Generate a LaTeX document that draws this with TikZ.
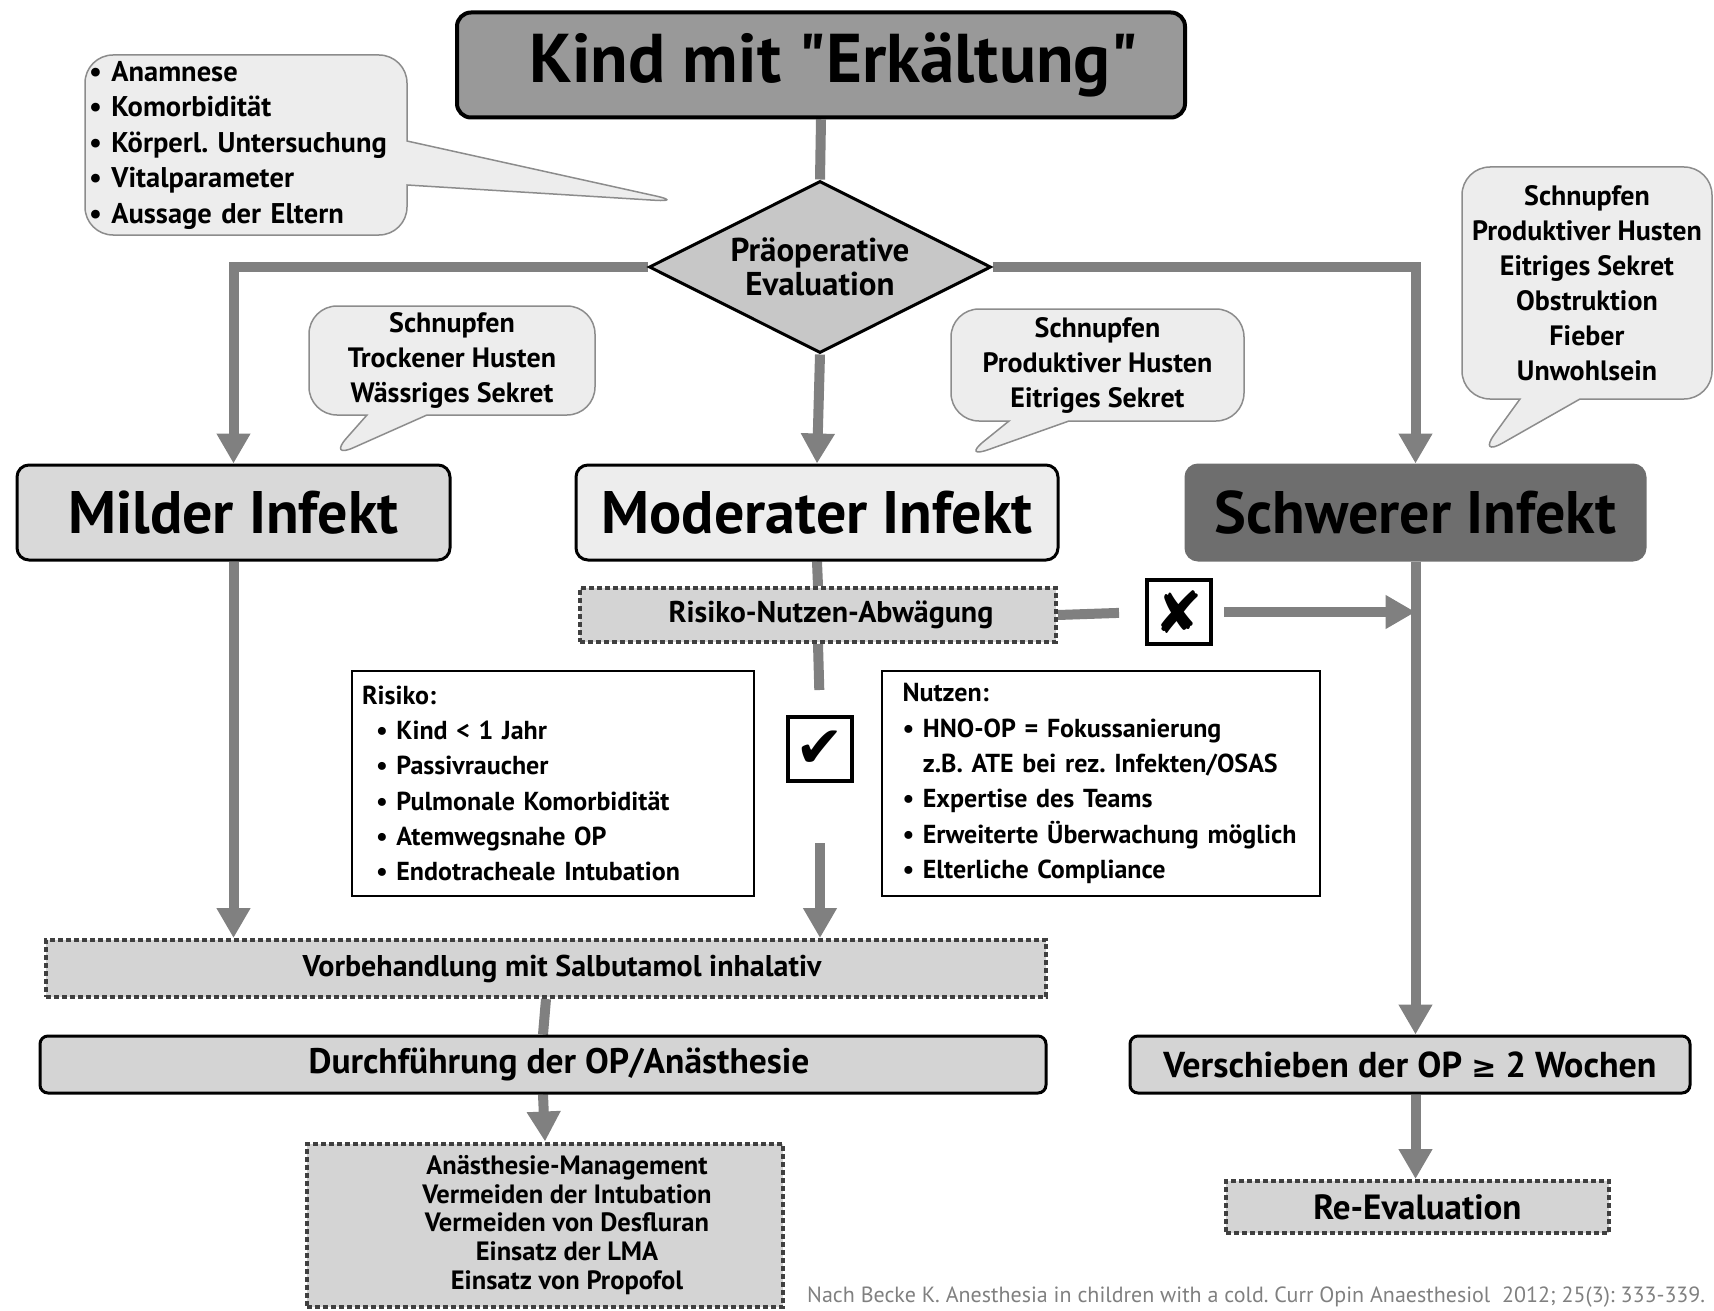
\documentclass[tikz,border=0pt]{standalone}
\usepackage{fontspec}
\setmainfont{PT Sans}
\newfontfamily\titlefont{PT Sans}[Ligatures=TeXOff]
\newfontfamily\symfont{DejaVu Sans}
\usetikzlibrary{arrows.meta,shapes.geometric,shapes.callouts,positioning,backgrounds}
\frenchspacing
\newcommand\indentline{\hspace*{44pt}} % text in the lower box sits right of centre

\definecolor{linegray}{gray}{0.5}
\definecolor{titlegray}{gray}{0.6}
\definecolor{evalgray}{gray}{0.78}
\definecolor{mildgray}{gray}{0.85}
\definecolor{modgray}{gray}{0.93}
\definecolor{sevgray}{gray}{0.43}
\definecolor{bubblegray}{gray}{0.93}
\definecolor{boxgray}{gray}{0.83}

\tikzset{%
  >={Triangle[width=32pt,length=30pt]}, % big gray arrow heads
  conn/.style={draw=linegray,line width=10pt},
  titlebox/.style={draw,line width=4pt,rounded corners=14pt,fill=titlegray,
    minimum width=728pt,minimum height=105pt,inner sep=0pt,
    font=\titlefont\bfseries\fontsize{69}{72}\selectfont},
  evalbox/.style={diamond,aspect=2,draw,line width=3pt,fill=evalgray,minimum width=342pt,
    minimum height=172pt,inner sep=0pt,align=center,
    font=\bfseries\fontsize{33}{34}\selectfont},
  infbox/.style={draw,line width=3pt,rounded corners=12pt,minimum height=95pt,
    inner sep=0pt,font=\bfseries\fontsize{60}{62}\selectfont},
  bubble/.style={rectangle callout,rounded corners=28pt,draw=black!45,line width=1.5pt,
    fill=bubblegray,inner sep=0pt,callout pointer width=60pt,align=center,
    font=\bfseries\fontsize{28}{35}\selectfont},
  dotbox/.style={draw=black!75,line width=4pt,dash pattern=on 5pt off 3pt,
    fill=boxgray,inner sep=0pt,align=center,
    font=\bfseries\fontsize{30}{30}\selectfont},
  stepbox/.style={draw,line width=3pt,rounded corners=8pt,fill=boxgray,
    minimum height=57pt,inner sep=0pt},
  listbox/.style={draw,line width=1.5pt,fill=white,inner sep=0pt,align=left,
    minimum height=225pt,font=\bfseries\fontsize{26}{35.3}\selectfont},
  tickbox/.style={draw,line width=4pt,fill=white,minimum size=64pt,inner sep=0pt,
    font=\symfont\fontsize{58}{58}\selectfont}
}

\begin{document}
\begin{tikzpicture}[x=1pt,y=-1pt]
  \useasboundingbox (0,0) rectangle (1714,1311);

  % start and evaluation
  \node[titlebox] (kind) at (821,65) {\hspace*{26pt}Kind mit "Erkältung"};
  \node[evalbox] (eval) at (820,267) {Präoperative\\Evaluation};

  % three kinds of infection
  \node[infbox,fill=mildgray,minimum width=433pt] (mild) at (233.5,512.5) {Milder Infekt};
  \node[infbox,fill=modgray,minimum width=482pt] (mod) at (817,512.5) {Moderater Infekt};
  \node[infbox,draw=sevgray,fill=sevgray,minimum width=459pt] (sev) at (1415.5,512.5) {Schwerer Infekt};

  % speech bubbles
  \coordinate (tipE) at (683,202);
  \coordinate (tipM) at (328,459);
  \coordinate (tipD) at (962,459);
  \coordinate (tipS) at (1478,457);
  \node[bubble,align=left,text width=314pt,minimum width=322pt,minimum height=180pt,
    callout absolute pointer={(tipE)},callout pointer width=44pt,
    font=\bfseries\fontsize{28.5}{35.5}\selectfont] (anam) at (246,145)
    {• Anamnese\\• Komorbidität\\• Körperl. Untersuchung\\• Vitalparameter\\• Aussage der Eltern};
  \node[bubble,minimum width=286pt,minimum height=109pt,
    callout absolute pointer={(tipM)}] (bmild) at (452,360.5)
    {Schnupfen\\Trockener Husten\\Wässriges Sekret};
  \node[bubble,minimum width=293pt,minimum height=112pt,
    callout absolute pointer={(tipD)}] (bmod) at (1097.5,365)
    {Schnupfen\\Produktiver Husten\\Eitriges Sekret};
  \node[bubble,minimum width=250pt,minimum height=232pt,
    callout absolute pointer={(tipS)}] (bsev) at (1587,283)
    {Schnupfen\\Produktiver Husten\\Eitriges Sekret\\Obstruktion\\Fieber\\Unwohlsein};

  % weighing up
  \node[dotbox,minimum width=476pt,minimum height=54pt] (abw) at (818,615) {\hspace*{26pt}Risiko-Nutzen-Abwägung};
  \node[tickbox] (no) at (1179,612) {✘};
  \node[tickbox] (yes) at (820,749) {✔};
  \node[listbox,text width=382pt,minimum width=402pt] (risk) at (553,783.5)
    {Risiko:\\\hspace*{14pt}• Kind < 1 Jahr\\\hspace*{14pt}• Passivraucher\\\hspace*{14pt}• Pulmonale Komorbidität\\\hspace*{14pt}• Atemwegsnahe OP\\\hspace*{14pt}• Endotracheale Intubation};
  \node[listbox,text width=397pt,minimum width=438pt] (gain) at (1101,783.5)
    {Nutzen:\\• HNO-OP = Fokussanierung\\\phantom{• }z.B. ATE bei rez. Infekten/OSAS\\• Expertise des Teams\\• Erweiterte Überwachung möglich\\• Elterliche Compliance};

  % treatment
  \node[dotbox,minimum width=1000pt,minimum height=57pt] (vorb) at (546,968.5) {\hspace*{32pt}Vorbehandlung mit Salbutamol inhalativ};
  \node[stepbox,minimum width=1006pt,font=\bfseries\fontsize{35.5}{37}\selectfont] (durch) at (543,1064.5) {\hspace*{32pt}Durchführung der OP/Anästhesie};
  \node[dotbox,minimum width=476pt,minimum height=163pt,font=\bfseries\fontsize{26.5}{28.7}\selectfont] (anae) at (545,1225)
    {\indentline Anästhesie-Management\\\indentline Vermeiden der Intubation\\\indentline Vermeiden von Desfluran\\\indentline Einsatz der LMA\\\indentline Einsatz von Propofol};
  \node[stepbox,minimum width=560pt,font=\bfseries\fontsize{36}{38}\selectfont] (versch) at (1410,1064.5) {Verschieben der OP {\symfont\fontsize{30}{30}\selectfont ≥} 2 Wochen};
  \node[dotbox,minimum width=383pt,minimum height=52pt,font=\bfseries\fontsize{35}{35}\selectfont] (reev) at (1417.5,1207) {Re-Evaluation};

  \node[anchor=base west,text=linegray,inner sep=0pt,font=\fontsize{22}{22}\selectfont] (ref) at (807,1302)
    {Nach Becke K. Anesthesia in children with a cold. Curr Opin Anaesthesiol\ \ 2012; 25(3): 333-339.};

  % connectors
  \begin{scope}[on background layer]
    \draw[conn] (kind.south) -- (eval.north);
    \draw[conn,->] (eval.west) -| (mild.north);
    \draw[conn,->] (eval.east) -| (sev.north);
    \draw[conn,->] (eval.south) -- (mod.north);
    \draw[conn] (mod.south) -- (abw.north);
    \draw[conn,shorten >=25pt] (abw.south) -- (yes.north);
    \draw[conn,->,shorten <=60pt] (yes.south) -- (yes.south |- vorb.north);
    \draw[conn,shorten >=26pt] (abw.east) -- (no.west);
    \draw[conn,->,shorten <=11pt] (no.east) -- (no.east -| sev.south);
    \draw[conn,->] (mild.south) -- (mild.south |- vorb.north);
    \draw[conn,->] (sev.south) -- (sev.south |- versch.north);
    \draw[conn] (vorb.south) -- (durch.north);
    \draw[conn,->] (durch.south) -- (anae.north);
    \draw[conn,->] (versch.south -| sev.south) -- (sev.south |- reev.north);
  \end{scope}
\end{tikzpicture}
\end{document}
